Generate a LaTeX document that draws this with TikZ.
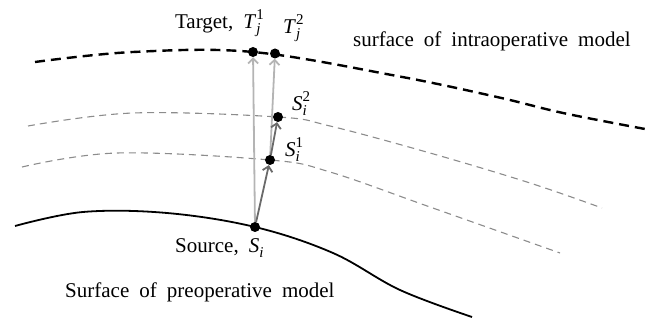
\documentclass[tikz,border=0pt]{standalone}
\usepackage{fontspec}
\setmainfont{Liberation Serif}
\usetikzlibrary{arrows.meta,backgrounds}
\definecolor{lightarrow}{HTML}{B4B4B4}
\definecolor{darkarrow}{HTML}{6A6A6A}
\definecolor{graydash}{HTML}{8C8C8C}
\newcommand\scrfont{\fontsize{15}{15}\selectfont}
\newcommand\symlab[3]{\textit{#1}\rlap{\raisebox{-5pt}{\scrfont\itshape #2}}\raisebox{9.5pt}{\scrfont #3}}
\newcommand\symsub[2]{\textit{#1}\raisebox{-5pt}{\scrfont\itshape #2}}
\newcommand\lblfont{\fontsize{21}{24}\selectfont\spaceskip 0.48em plus 0.1em\relax}
\tikzset{
  dot/.style={circle,fill=black,inner sep=0pt,minimum size=10pt},
  lbl/.style={inner sep=0pt,font=\lblfont},
  preop/.style={line width=1.8pt,black},
  intraop/.style={line width=2.4pt,black,dash pattern=on 10pt off 6pt},
  midsurf/.style={line width=1.1pt,graydash,dash pattern=on 7pt off 5pt},
  lightarr/.style={line width=1.8pt,lightarrow,-{Straight Barb[length=5pt,width=10pt]}},
  darkarr/.style={line width=1.8pt,darkarrow,-{Straight Barb[length=5pt,width=10pt]}},
}
\begin{document}
\begin{tikzpicture}[x=1pt,y=-1pt]
\useasboundingbox (0,0) rectangle (656,320);
% dots
\node[dot] (Si) at (255,227) {};
\node[dot] (S1) at (270,160) {};
\node[dot] (S2) at (278,117) {};
\node[dot] (T1) at (253,52) {};
\node[dot] (T2) at (275,53.5) {};
\begin{pgfonlayer}{background}
% surfaces
\draw[preop] plot[smooth,tension=0.6] coordinates {(15,226) (83,212) (167,213) (Si.center) (333,253) (400,290) (472,317)};
\draw[intraop] plot[smooth,tension=0.6] coordinates {(35,62) (133,52) (T1.center) (397,76) (497,97) (563,113) (645,129)};
\draw[midsurf] plot[smooth,tension=0.6] coordinates {(28,126) (133,113) (S2.center) (330,126) (430,153) (530,183) (602,208)};
\draw[midsurf] plot[smooth,tension=0.6] coordinates {(22,167) (117,153) (S1.center) (330,172) (430,207) (560,253)};
% arrows
\draw[lightarr] (Si) -- (T1);
\draw[lightarr] (S1) -- (T2);
\draw[darkarr] (Si) -- (S1);
\draw[darkarr] (S1) -- (S2);
\end{pgfonlayer}
% labels
\node[lbl,anchor=base east] (ltarget) at (264,29) {Target, \symlab{T}{j}{1}};
\node[lbl,anchor=base west] (lt2) at (283,34) {\symlab{T}{j}{2}};
\node[lbl,anchor=base west] (ls2) at (292,111) {\symlab{S}{i}{2}};
\node[lbl,anchor=base west] (ls1) at (285,157) {\symlab{S}{i}{1}};
\node[lbl,anchor=base west] (lsrc) at (175,253) {Source, \symsub{S}{i}};
\node[lbl,anchor=base west] (lintra) at (353,47) {surface of intraoperative model};
\node[lbl,anchor=base west] (lpre) at (65,298) {Surface of preoperative model};
\end{tikzpicture}
\end{document}
